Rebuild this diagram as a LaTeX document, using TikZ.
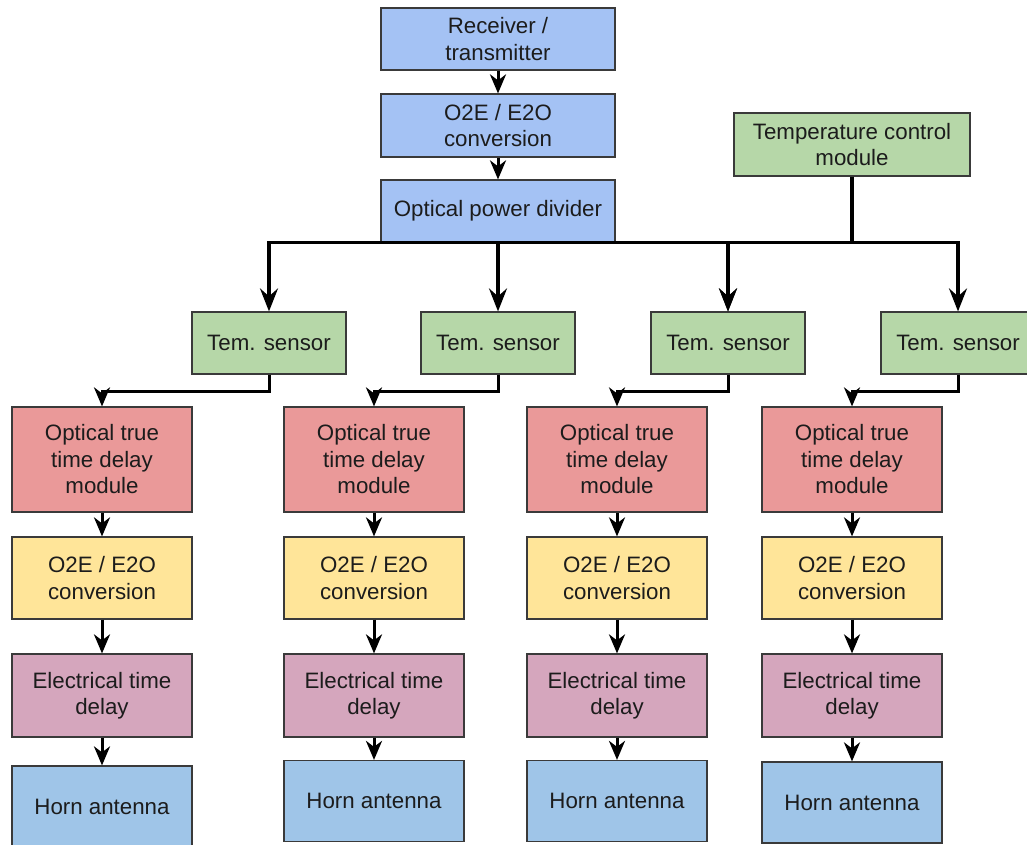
\documentclass[tikz,border=0pt]{standalone}
\usepackage{fontspec}
\setmainfont{Liberation Sans}
\usetikzlibrary{arrows.meta,positioning}
\definecolor{topblue}{HTML}{A4C2F4}
\definecolor{sgreen}{HTML}{B6D7A8}
\definecolor{sred}{HTML}{EA9999}
\definecolor{syellow}{HTML}{FFE599}
\definecolor{spink}{HTML}{D5A6BD}
\definecolor{hblue}{HTML}{9FC5E8}
\definecolor{bord}{HTML}{3A3A3A}
\definecolor{txt}{HTML}{1C1C1C}
\tikzset{
  box/.style={draw=bord, line width=1.2pt, inner sep=0pt, align=center, text=txt,
    font=\fontsize{22.3}{26.5}\selectfont},
  bigarr/.style={line width=3.2pt, -{Stealth[length=23pt,width=18pt,inset=8pt]}},
  smallarr/.style={line width=3pt, -{Stealth[length=19pt,width=16pt,inset=6pt]}},
}
\begin{document}
\begin{tikzpicture}[x=1pt,y=-1pt]
\useasboundingbox (0,0) rectangle (1027,845);
% top chain
\node[box, fill=topblue, minimum width=234pt, minimum height=62pt] (rt) at (498,39) {Receiver /\\transmitter};
\node[box, fill=topblue, minimum width=234pt, minimum height=63pt] (oe) at (498,125.5) {O2E / E2O\\conversion};
\node[box, fill=topblue, minimum width=234pt, minimum height=62pt] (opd) at (498,211) {Optical power divider};
\node[box, fill=sgreen, minimum width=236pt, minimum height=63pt] (tcm) at (852,144.5) {Temperature control\\module};
% sensors
\foreach \i/\x in {1/269,2/498,3/728,4/958}{
  \node[box, fill=sgreen, minimum width=154pt, minimum height=62pt] (s\i) at (\x,343) {Tem. sensor};
}
% columns
\foreach \i/\x in {1/102,2/374,3/617,4/852}{
  \node[box, fill=sred, minimum width=180pt, minimum height=105pt] (r\i) at (\x,459.5) {Optical true\\time delay\\module};
  \node[box, fill=syellow, minimum width=180pt, minimum height=82pt] (y\i) at (\x,578) {O2E / E2O\\conversion};
  \node[box, fill=spink, minimum width=180pt, minimum height=83pt] (p\i) at (\x,695.5) {Electrical time\\delay};
}
\node[box, fill=hblue, minimum width=180pt, minimum height=82pt] (h1) at (102,807) {Horn antenna};
\node[box, fill=hblue, minimum width=180pt, minimum height=81pt] (h2) at (374,801) {Horn antenna};
\node[box, fill=hblue, minimum width=180pt, minimum height=81pt] (h3) at (617,801) {Horn antenna};
\node[box, fill=hblue, minimum width=180pt, minimum height=81pt] (h4) at (852,802.5) {Horn antenna};
% connectors top
\draw[smallarr] (rt) -- (oe);
\draw[smallarr] (oe) -- (opd);
\draw[bigarr] (opd.south) -| (s1.north);
\draw[bigarr] (opd.south) -- (s2.north);
\draw[bigarr] (opd.south) -| (s3.north);
\draw[bigarr] (tcm.south) -- ++(0,66) -| (s3.north);
\draw[bigarr] (tcm.south) -- ++(0,66) -| (s4.north);
% sensors to columns
\foreach \i in {1,2,3,4}{
  \draw[smallarr] (s\i.south) -- ++(0,17) -| (r\i.north);
  \draw[smallarr] (r\i) -- (y\i);
  \draw[smallarr] (y\i) -- (p\i);
  \draw[smallarr] (p\i) -- (h\i);
}
\end{tikzpicture}
\end{document}
